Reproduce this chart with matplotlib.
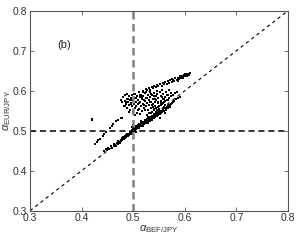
import matplotlib
matplotlib.use('Agg')
import matplotlib.pyplot as plt

plt.rcParams['font.family'] = ['Liberation Sans', 'DejaVu Sans']
plt.rcParams['mathtext.fontset'] = 'custom'
plt.rcParams['mathtext.rm'] = 'Liberation Sans'
plt.rcParams['mathtext.it'] = 'Liberation Sans:italic'

# ── data ──
ticks = [0.3, 0.4, 0.5, 0.6, 0.7, 0.8]
tick_labels = ['0.3', '0.4', '0.5', '0.6', '0.7', '0.8']

# main lower band, close to the diagonal
band_x = [0.444, 0.447, 0.449, 0.452, 0.454, 0.457, 0.459, 0.462, 0.463, 0.466,
          0.468, 0.470, 0.472, 0.474, 0.476, 0.477, 0.479, 0.481, 0.482, 0.484,
          0.485, 0.487, 0.488, 0.490, 0.491, 0.492, 0.494, 0.495, 0.496, 0.497,
          0.498, 0.499, 0.500, 0.501, 0.502, 0.503, 0.504, 0.505, 0.506, 0.507,
          0.508, 0.509, 0.510, 0.511, 0.512, 0.513, 0.514, 0.515, 0.516, 0.517,
          0.518, 0.519, 0.520, 0.521, 0.522, 0.523, 0.524, 0.525, 0.526, 0.527,
          0.528, 0.529, 0.530, 0.531, 0.532, 0.533, 0.534, 0.535, 0.536, 0.537,
          0.538, 0.539, 0.540, 0.541, 0.542, 0.543, 0.545, 0.546, 0.548, 0.549,
          0.551, 0.552, 0.554, 0.556, 0.557, 0.559, 0.561, 0.563, 0.565, 0.567,
          0.569, 0.571, 0.574, 0.577, 0.580, 0.583, 0.586, 0.590,
          0.528, 0.544, 0.552, 0.562, 0.505, 0.515, 0.497, 0.500]
band_y = [0.450, 0.455, 0.452, 0.458, 0.455, 0.461, 0.457, 0.466, 0.462, 0.463,
          0.470, 0.466, 0.473, 0.470, 0.478, 0.474, 0.477, 0.485, 0.480, 0.483,
          0.488, 0.484, 0.491, 0.487, 0.493, 0.489, 0.496, 0.492, 0.498, 0.494,
          0.502, 0.497, 0.505, 0.499, 0.508, 0.503, 0.506, 0.510, 0.504, 0.512,
          0.507, 0.509, 0.514, 0.508, 0.516, 0.511, 0.513, 0.518, 0.512, 0.520,
          0.515, 0.517, 0.522, 0.516, 0.524, 0.519, 0.521, 0.526, 0.520, 0.528,
          0.523, 0.525, 0.530, 0.524, 0.532, 0.527, 0.529, 0.534, 0.528, 0.536,
          0.531, 0.533, 0.538, 0.532, 0.540, 0.535, 0.542, 0.537, 0.544, 0.540,
          0.547, 0.543, 0.550, 0.547, 0.553, 0.550, 0.557, 0.554, 0.560, 0.558,
          0.565, 0.562, 0.568, 0.572, 0.575, 0.579, 0.581, 0.585,
          0.535, 0.548, 0.532, 0.545, 0.497, 0.525, 0.510, 0.515]

# extra points filling the thickness of the lower band
band2_x = [0.4862, 0.4935, 0.5018, 0.5057, 0.5103, 0.5146, 0.5192, 0.5238, 0.5284, 0.5327,
           0.5369, 0.5411, 0.5455, 0.5498, 0.5541, 0.5583, 0.5627, 0.5668, 0.5715, 0.5752,
           0.5273, 0.5318, 0.5176, 0.5095, 0.5392, 0.5436, 0.5521, 0.5604, 0.4782, 0.4711]
band2_y = [0.4893, 0.4981, 0.5029, 0.5121, 0.5069, 0.5187, 0.5131, 0.5264, 0.5198, 0.5342,
           0.5296, 0.5421, 0.5368, 0.5489, 0.5442, 0.5553, 0.5517, 0.5629, 0.5598, 0.5701,
           0.5291, 0.5253, 0.5208, 0.5148, 0.5368, 0.5452, 0.5506, 0.5589, 0.4808, 0.4752]

# thin streak just above the lower band
streak_x = [0.535, 0.540, 0.545, 0.549, 0.553, 0.557, 0.561, 0.565, 0.569, 0.573,
            0.577, 0.581, 0.585]
streak_y = [0.545, 0.551, 0.556, 0.560, 0.565, 0.569, 0.574, 0.578, 0.583, 0.587,
            0.590, 0.594, 0.597]

# upper streak ending near (0.61, 0.645)
upper_x = [0.520, 0.524, 0.527, 0.530, 0.533, 0.536, 0.539, 0.541, 0.544, 0.547,
           0.549, 0.552, 0.555, 0.557, 0.560, 0.562, 0.565, 0.567, 0.570, 0.572,
           0.575, 0.577, 0.580, 0.582, 0.585, 0.587, 0.589, 0.591, 0.593, 0.595,
           0.597, 0.599, 0.601, 0.603, 0.605, 0.607, 0.609, 0.610,
           0.575, 0.590, 0.600, 0.586, 0.596]
upper_y = [0.600, 0.604, 0.601, 0.607, 0.603, 0.609, 0.606, 0.612, 0.609, 0.614,
           0.611, 0.617, 0.613, 0.619, 0.616, 0.621, 0.618, 0.624, 0.620, 0.626,
           0.623, 0.628, 0.625, 0.631, 0.628, 0.633, 0.630, 0.635, 0.632, 0.637,
           0.634, 0.639, 0.636, 0.641, 0.638, 0.643, 0.640, 0.645,
           0.630, 0.638, 0.642, 0.625, 0.631]

# scattered cloud around x = 0.5
cloud_x = [0.476, 0.479, 0.481, 0.482, 0.484, 0.485, 0.486, 0.488, 0.489, 0.490,
           0.491, 0.492, 0.493, 0.494, 0.495, 0.496, 0.497, 0.498, 0.499, 0.500,
           0.501, 0.502, 0.503, 0.504, 0.505, 0.506, 0.507, 0.508, 0.509, 0.510,
           0.511, 0.512, 0.513, 0.514, 0.515, 0.516, 0.517, 0.518, 0.519, 0.520,
           0.521, 0.522, 0.523, 0.524, 0.525, 0.526, 0.527, 0.528, 0.529, 0.530,
           0.531, 0.532, 0.533, 0.534, 0.535, 0.536, 0.537, 0.538, 0.539, 0.540,
           0.541, 0.542, 0.543, 0.544, 0.545, 0.546, 0.547, 0.548, 0.549, 0.550,
           0.552, 0.553, 0.554, 0.555, 0.557, 0.558, 0.560, 0.562, 0.564, 0.566,
           0.568, 0.570]
cloud_y = [0.578, 0.571, 0.585, 0.563, 0.575, 0.589, 0.568, 0.580, 0.558, 0.572,
           0.586, 0.565, 0.577, 0.552, 0.583, 0.570, 0.561, 0.590, 0.575, 0.548,
           0.568, 0.582, 0.558, 0.593, 0.573, 0.563, 0.586, 0.545, 0.578, 0.567,
           0.596, 0.555, 0.584, 0.572, 0.562, 0.590, 0.549, 0.579, 0.568, 0.586,
           0.557, 0.594, 0.574, 0.563, 0.583, 0.540, 0.570, 0.590, 0.552, 0.578,
           0.565, 0.597, 0.584, 0.558, 0.573, 0.546, 0.589, 0.566, 0.580, 0.555,
           0.594, 0.572, 0.562, 0.586, 0.577, 0.551, 0.591, 0.569, 0.583, 0.561,
           0.596, 0.575, 0.588, 0.566, 0.580, 0.592, 0.572, 0.585, 0.598, 0.578,
           0.590, 0.602]

cloud2_x = [0.4835, 0.4872, 0.4917, 0.4953, 0.5028, 0.5064, 0.5117, 0.5142, 0.5186, 0.5233,
            0.5271, 0.5304, 0.5348, 0.5381, 0.5426, 0.5463, 0.5497, 0.5534, 0.5566, 0.5611,
            0.5647, 0.5683, 0.5724, 0.4968, 0.5012, 0.5089, 0.5163, 0.5207, 0.5252, 0.5329,
            0.5405, 0.5478, 0.5552, 0.5591, 0.4901, 0.4852, 0.5046, 0.5128, 0.5214, 0.5362]
cloud2_y = [0.5612, 0.5931, 0.5478, 0.5664, 0.5387, 0.5815, 0.5703, 0.5418, 0.5967, 0.5531,
            0.5827, 0.5449, 0.5909, 0.5596, 0.5782, 0.5989, 0.5537, 0.5694, 0.5853, 0.5648,
            0.5889, 0.5762, 0.5941, 0.5772, 0.5913, 0.5512, 0.5836, 0.5651, 0.5968, 0.5713,
            0.5857, 0.5728, 0.6014, 0.5789, 0.5806, 0.5719, 0.5627, 0.5888, 0.5762, 0.5648]

# faint, broken trail on the left plus the lone point
trail_x = [0.426, 0.429, 0.432, 0.435, 0.441, 0.444, 0.448, 0.455,
           0.458, 0.461, 0.467, 0.470, 0.476, 0.479, 0.4205, 0.4205]
trail_y = [0.468, 0.472, 0.476, 0.479, 0.487, 0.491, 0.496, 0.507,
           0.512, 0.516, 0.524, 0.527, 0.533, 0.531, 0.526, 0.530]

fig = plt.figure(figsize=(2.99, 2.40), dpi=100)
ax = fig.add_axes([0.1003, 0.122, 0.8627, 0.833])

# reference lines
ax.plot([0.3, 0.8], [0.3, 0.8], color='black', lw=0.8, dashes=(3, 3))
ax.plot([0.3, 0.8], [0.5, 0.5], color='black', lw=1.1, dashes=(4, 2.5))
ax.plot([0.5, 0.5], [0.3, 0.8], color='#808080', lw=1.8, dashes=(3, 1.8))

for xs, ys in [(band_x, band_y), (band2_x, band2_y), (streak_x, streak_y),
               (upper_x, upper_y), (cloud_x, cloud_y), (cloud2_x, cloud2_y),
               (trail_x, trail_y)]:
    ax.scatter(xs, ys, s=0.7, marker='s', color='black', linewidths=0)

ax.set_xlim(0.3, 0.8)
ax.set_ylim(0.3, 0.8)
ax.set_xticks(ticks)
ax.set_yticks(ticks)
ax.set_xticklabels(tick_labels)
ax.set_yticklabels(tick_labels)
ax.tick_params(direction='in', length=3, width=0.6, colors='#555555',
               labelcolor='#333333', labelsize=7.5, top=True, right=True, pad=2)
for s in ax.spines.values():
    s.set_color('#555555')
    s.set_linewidth(0.8)

ax.text(0.352, 0.714, '(b)', fontsize=8, color='#222222', ha='left', va='center')
ax.set_xlabel(r'$\alpha_{\mathrm{BEF/JPY}}$', fontsize=8, color='#333333', labelpad=0)
ax.set_ylabel(r'$\alpha_{\mathrm{EUR/JPY}}$', fontsize=8, color='#333333', labelpad=0)

fig.savefig('out.png', dpi=100)
